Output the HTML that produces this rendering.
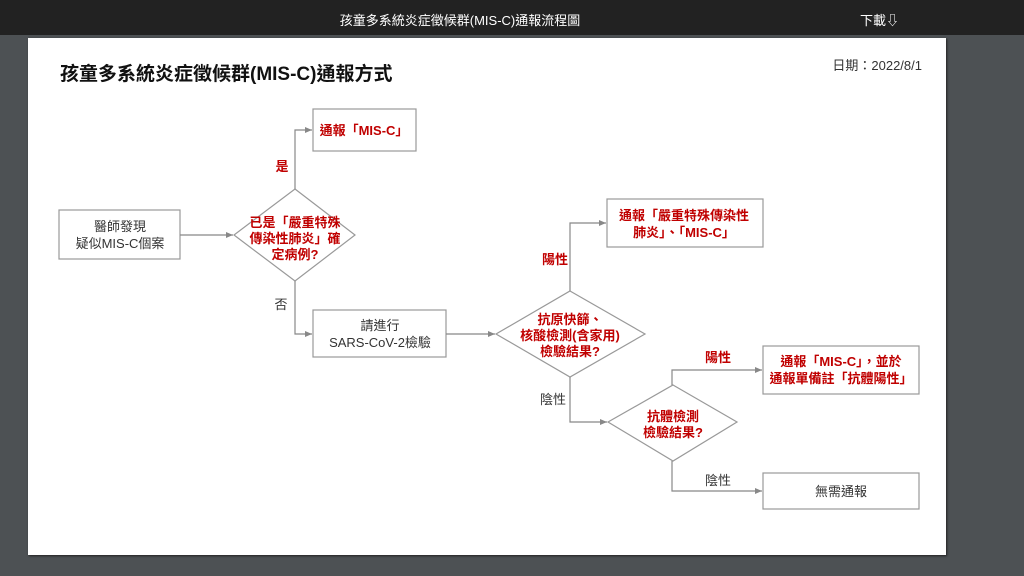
<!DOCTYPE html>
<html><head><meta charset="utf-8"><style>
html,body{margin:0;padding:0;width:1024px;height:576px;overflow:hidden;background:#4d5154;}
body{font-family:"Liberation Sans","Noto Sans CJK TC",sans-serif;}
.bar{position:absolute;left:0;top:0;width:1024px;height:35px;background:#222;color:#fff;font-size:13px;}
.card{position:absolute;left:28px;top:38px;width:918px;height:517px;background:#fff;box-shadow:1px 1px 2px #222;}
svg text{font-family:"Liberation Sans","Noto Sans CJK TC",sans-serif;}
</style></head><body>
<div class="bar"><div style="position:absolute;left:0;width:920px;top:10px;text-align:center;">孩童多系統炎症徵候群(MIS-C)通報流程圖</div>
<div style="position:absolute;left:860px;top:10px;">下載⇩</div></div>
<div class="card"></div>
<svg width="1024" height="576" style="position:absolute;left:0;top:0">
<defs><marker id="a" markerWidth="8" markerHeight="8" refX="7" refY="4" orient="auto" markerUnits="userSpaceOnUse"><path d="M0,1 L7,4 L0,7z" fill="#888"/></marker></defs>
<text x="60" y="80" font-size="19" font-weight="bold" fill="#111">孩童多系統炎症徵候群(MIS-C)通報方式</text>
<text x="922" y="70" font-size="13" fill="#333" text-anchor="end">日期：2022/8/1</text>
<g fill="none" stroke="#999" stroke-width="1.2">
<rect x="59" y="210" width="121" height="49"/>
<rect x="313" y="109" width="103" height="42"/>
<rect x="313" y="310" width="133" height="47"/>
<rect x="607" y="199" width="156" height="48"/>
<rect x="763" y="346" width="156" height="48"/>
<rect x="763" y="473" width="156" height="36"/>
<polygon points="295,189 355,235 295,281 234,235"/>
<polygon points="570,291 645,334 570,377 496,334"/>
<polygon points="673,385 737,422 673,461 608,422"/>
</g>
<g fill="none" stroke="#888" stroke-width="1.2" marker-end="url(#a)">
<path d="M180,235 H233"/>
<path d="M295,189 V130 H312"/>
<path d="M295,281 V334 H312"/>
<path d="M446,334 H495"/>
<path d="M570,291 V223 H606"/>
<path d="M570,377 V422 H607"/>
<path d="M672,385 V370 H762"/>
<path d="M672,461 V491 H762"/>
</g>
<g font-size="13" text-anchor="middle" fill="#333">
<text x="120" y="231">醫師發現</text><text x="120" y="248">疑似MIS-C個案</text>
<text x="380" y="330">請進行</text><text x="380" y="347">SARS-CoV-2檢驗</text>
<text x="841" y="496">無需通報</text>
<text x="281" y="309">否</text>
<text x="553" y="404">陰性</text>
<text x="718" y="485">陰性</text>
</g>
<g font-size="13" text-anchor="middle" fill="#c00000" font-weight="bold">
<text x="364" y="135">通報「MIS-C」</text>
<text x="282" y="171">是</text>
<text x="295" y="227">已是「嚴重特殊</text><text x="295" y="243">傳染性肺炎」確</text><text x="295" y="259">定病例?</text>
<text x="684" y="220">通報「嚴重特殊傳染性</text><text x="684" y="237">肺炎」、「MIS-C」</text>
<text x="555" y="264">陽性</text>
<text x="570" y="324">抗原快篩、</text><text x="570" y="340">核酸檢測(含家用)</text><text x="570" y="356">檢驗結果?</text>
<text x="718" y="362">陽性</text>
<text x="841" y="366">通報「MIS-C」，並於</text><text x="841" y="383">通報單備註「抗體陽性」</text>
<text x="673" y="421">抗體檢測</text><text x="673" y="437">檢驗結果?</text>
</g>
</svg>
</body></html>
